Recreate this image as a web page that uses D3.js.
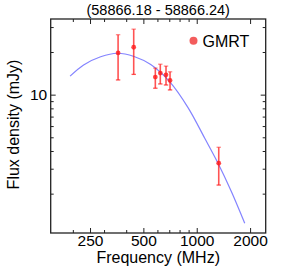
<!DOCTYPE html>
<html><head><meta charset="utf-8">
<script src="https://cdn.jsdelivr.net/npm/d3@7"></script>
<style>html,body{margin:0;padding:0;background:#fff;}svg{display:block;font-family:"Liberation Sans",Arial,sans-serif;}</style>
</head><body><svg id="c" width="286" height="274"></svg>
<script>
const title = "(58866.18 - 58866.24)";
const seriesName = "GMRT";
const freq = [360, 441, 584, 623, 671, 707, 1331];
const flux = [19.7, 21.6, 13.3, 14.2, 13.8, 12.6, 3.28];
const fluxHi = [26.5, 29.0, 15.4, 16.4, 15.9, 14.5, 4.25];
const fluxLo = [12.7, 13.9, 11.1, 11.9, 11.7, 10.8, 2.30];
const fitFreq = [193, 230, 287, 356, 443, 550, 705, 893, 1110, 1319, 1568, 1866];
const fitFlux = [13.5, 16.2, 18.5, 19.6, 18.6, 16.3, 12.3, 8.1, 4.92, 3.28, 2.07, 1.235];
const xMajor = [250, 500, 1000, 2000];
const xMinor = [200, 300, 400, 600, 700, 800, 900];
const yMajor = [10];
const yMinor = [2, 3, 4, 5, 6, 7, 8, 9, 20, 30];
const xDomain = [150, 2450];
const yDomain = [1.055, 34.2];

const L = 50.7, R = 265.7, T = 19, B = 233;
const svg = d3.select("#c");
const x = d3.scaleLog().domain(xDomain).range([L, R]);
const y = d3.scaleLog().domain(yDomain).range([B, T]);
const fmt = d3.format("d");

function ax(g, axis){ g.call(axis); g.select(".domain").remove(); g.selectAll(".tick line").attr("stroke","#222").attr("stroke-width",1); }
// bottom
svg.append("g").attr("transform",`translate(0,${B})`).call(g=>ax(g, d3.axisBottom(x).tickValues(xMajor).tickFormat(fmt).tickSizeInner(-5).tickPadding(4)))
  .selectAll("text").attr("font-size","15.5px").attr("fill","#000").attr("dy","0.71em").attr("y",2);
svg.append("g").attr("transform",`translate(0,${B})`).call(g=>ax(g, d3.axisBottom(x).tickValues(xMinor).tickFormat("").tickSizeInner(-3)));
// top
svg.append("g").attr("transform",`translate(0,${T})`).call(g=>ax(g, d3.axisTop(x).tickValues(xMajor).tickFormat("").tickSizeInner(-5)));
svg.append("g").attr("transform",`translate(0,${T})`).call(g=>ax(g, d3.axisTop(x).tickValues(xMinor).tickFormat("").tickSizeInner(-3)));
// left
svg.append("g").attr("transform",`translate(${L},0)`).call(g=>ax(g, d3.axisLeft(y).tickValues(yMajor).tickFormat(fmt).tickSizeInner(-5).tickPadding(4)))
  .selectAll("text").attr("font-size","15.5px").attr("fill","#000").attr("x",-3.5);
svg.append("g").attr("transform",`translate(${L},0)`).call(g=>ax(g, d3.axisLeft(y).tickValues(yMinor).tickFormat("").tickSizeInner(-3)));
// right
svg.append("g").attr("transform",`translate(${R},0)`).call(g=>ax(g, d3.axisRight(y).tickValues(yMajor).tickFormat("").tickSizeInner(-5)));
svg.append("g").attr("transform",`translate(${R},0)`).call(g=>ax(g, d3.axisRight(y).tickValues(yMinor).tickFormat("").tickSizeInner(-3)));
svg.selectAll(".tick text").attr("font-family","Liberation Sans, Arial, sans-serif");

// frame
svg.append("rect").attr("x",L).attr("y",T).attr("width",R-L).attr("height",B-T)
  .attr("fill","none").attr("stroke","#222").attr("stroke-width",1.3);

// fit curve
const fit = fitFreq.map((f,i)=>[f, fitFlux[i]]);
svg.append("path").datum(fit)
  .attr("d", d3.line().x(d=>x(d[0])).y(d=>y(d[1])).curve(d3.curveCatmullRom))
  .attr("fill","none").attr("stroke","#5a5aff").attr("stroke-opacity",0.75).attr("stroke-width",1.2);

// data
const pts = freq.map((f,i)=>({f, s:flux[i], hi:fluxHi[i], lo:fluxLo[i]}));
const eg = svg.append("g").attr("stroke","#ff1a1a").attr("stroke-opacity",0.75).attr("stroke-width",1.6);
eg.selectAll(".v").data(pts).join("line").attr("x1",d=>x(d.f)).attr("x2",d=>x(d.f)).attr("y1",d=>y(d.hi)).attr("y2",d=>y(d.lo));
eg.selectAll(".ct").data(pts).join("line").attr("x1",d=>x(d.f)-2.2).attr("x2",d=>x(d.f)+2.2).attr("y1",d=>y(d.hi)).attr("y2",d=>y(d.hi)).attr("stroke-width",1.3).attr("stroke-opacity",0.5);
eg.selectAll(".cb").data(pts).join("line").attr("x1",d=>x(d.f)-2.2).attr("x2",d=>x(d.f)+2.2).attr("y1",d=>y(d.lo)).attr("y2",d=>y(d.lo)).attr("stroke-width",1.3);
svg.append("g").selectAll("circle").data(pts).join("circle")
  .attr("cx",d=>x(d.f)).attr("cy",d=>y(d.s)).attr("r",2.4).attr("fill","#ff1a1a").attr("fill-opacity",0.8);

// legend
svg.append("circle").attr("cx",193.5).attr("cy",40.7).attr("r",4).attr("fill","#f24a4a").attr("fill-opacity",0.9);
svg.append("text").attr("x",202.5).attr("y",46.5).attr("font-size","16px").attr("fill","#000").text(seriesName);

// title and labels
svg.append("text").attr("x",(L+R)/2).attr("y",15.3).attr("text-anchor","middle").attr("font-size","14.5px").attr("fill","#000").text(title);
svg.append("text").attr("x",(L+R)/2).attr("y",263).attr("text-anchor","middle").attr("font-size","16px").attr("fill","#000").text("Frequency (MHz)");
svg.append("text").attr("transform",`translate(19,${124.5}) rotate(-90)`).attr("text-anchor","middle").attr("font-size","16px").attr("fill","#000").text("Flux density (mJy)");
</script></body></html>
